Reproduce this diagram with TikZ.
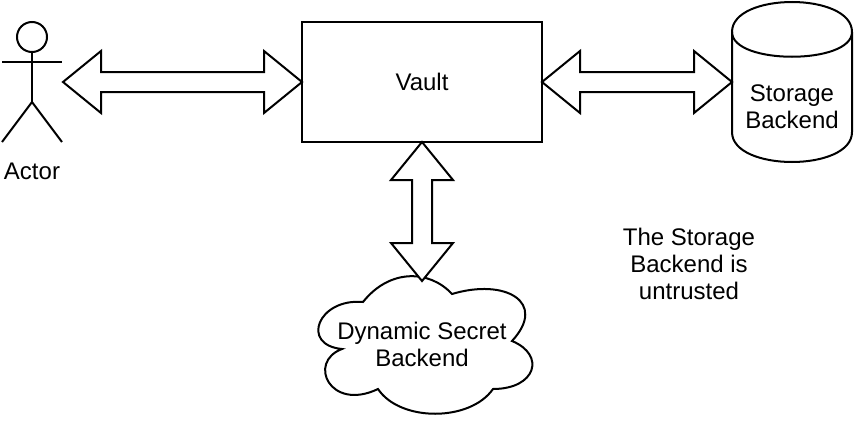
\documentclass[tikz,border=0pt]{standalone}
\usepackage{fontspec}
\setmainfont{Liberation Sans}
\usetikzlibrary{calc}
\tikzset{
  every node/.style={font=\fontsize{24}{27}\selectfont,align=center,inner sep=0pt,outer sep=0pt},
  shapeline/.style={draw=black,line width=2pt},
  blockarrow/.style={shapeline,fill=white}
}
\newcommand{\blockarrow}[2]{
  \draw[blockarrow] (#1)
    -- ($($(#1)!38pt!(#2)$)!31pt!90:(#2)$)
    -- ($($(#1)!38pt!(#2)$)!10pt!90:(#2)$)
    -- ($($(#2)!38pt!(#1)$)!10pt!-90:(#1)$)
    -- ($($(#2)!38pt!(#1)$)!31pt!-90:(#1)$)
    -- (#2)
    -- ($($(#2)!38pt!(#1)$)!31pt!90:(#1)$)
    -- ($($(#2)!38pt!(#1)$)!10pt!90:(#1)$)
    -- ($($(#1)!38pt!(#2)$)!10pt!-90:(#2)$)
    -- ($($(#1)!38pt!(#2)$)!31pt!-90:(#2)$)
    -- cycle;
}
\begin{document}
\begin{tikzpicture}[x=1pt,y=-1pt]
  \useasboundingbox (0,0) rectangle (854,423);
  \node[shapeline,circle,minimum size=30pt] (head) at (32,37) {};
  \coordinate (neck) at (32,52);
  \coordinate (hip) at (32,102);
  \coordinate (handl) at (2,62);
  \coordinate (handr) at (62,62);
  \coordinate (footl) at (2,142);
  \coordinate (footr) at (62,142);
  \draw[shapeline] (head.south) -- (hip);
  \draw[shapeline] (handl) -- (handr);
  \draw[shapeline] (footl) -- (hip) -- (footr);
  \node (actor) at (32,171) {Actor};
  \node[shapeline,minimum width=240pt,minimum height=120pt] (vault) at (422,82) {Vault};
  \draw[shapeline] (732,32) .. controls (732,-8) and (852,-8) .. (852,32)
    -- (852,132) .. controls (852,172) and (732,172) .. (732,132) -- cycle;
  \draw[shapeline] (732,32) .. controls (732,65) and (852,65) .. (852,32);
  \node (storage) at (792,107) {Storage\\Backend};
  \draw[shapeline] (363,302) .. controls (318,298) and (300,345) .. (342,349)
    .. controls (307,362) and (330,412) .. (378,389)
    .. controls (400,422) and (470,422) .. (493,389)
    .. controls (536,389) and (546,355) .. (512,341)
    .. controls (548,302) and (505,278) .. (452,294)
    .. controls (430,270) and (390,268) .. (363,302) -- cycle;
  \node (dynamic) at (422,344) {Dynamic Secret\\Backend};
  \node (note) at (689,264) {The Storage\\Backend is\\untrusted};
  \coordinate (actorport) at (63,82);
  \coordinate (storeport) at (732,82);
  \coordinate (cloudport) at (422,281);
  \blockarrow{actorport}{vault.west}
  \blockarrow{vault.east}{storeport}
  \blockarrow{vault.south}{cloudport}
\end{tikzpicture}
\end{document}
